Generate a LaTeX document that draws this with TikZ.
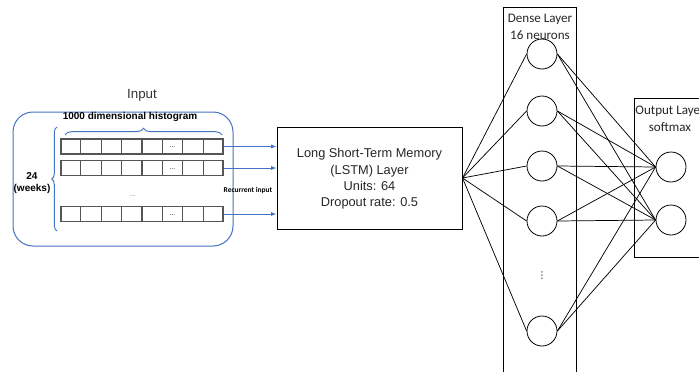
\documentclass[tikz,border=0pt]{standalone}
\usepackage{fontspec}
\setmainfont{Liberation Sans}
\newfontfamily\calf{Carlito}
\newfontfamily\djv{DejaVu Sans}
\usetikzlibrary{arrows.meta,decorations.pathreplacing,calc}
\definecolor{lineblue}{HTML}{4472C4}
\definecolor{cellgray}{HTML}{555555}
\tikzset{
  rowbox/.style={draw=cellgray, line width=0.9pt, minimum width=121.5pt, minimum height=11.25pt, inner sep=0pt},
  neuron/.style={draw, circle, minimum size=22.5pt, inner sep=0pt, line width=0.6pt},
  layerbox/.style={draw, line width=0.75pt, inner sep=0pt, anchor=north west},
  conn/.style={line width=0.55pt},
  bluearrow/.style={draw=lineblue, line width=0.75pt, -{Latex[length=4pt,width=3pt]}},
  bracebl/.style={draw=lineblue, line width=0.7pt, decorate},
  layertitle/.style={font=\calf\fontsize{9.8}{12.75}\selectfont, align=center, text=black!85},
}
\begin{document}
\begin{tikzpicture}[x=0.75pt,y=-0.75pt]
\useasboundingbox (0,0) rectangle (699,371);

% ---------- Input block ----------
\node[font=\fontsize{10}{12}\selectfont, text=black!80] (inputlbl) at (142,95) {Input};
\draw[lineblue, line width=0.75pt, rounded corners=15pt] (13,112) rectangle (233,246);
\node[font=\bfseries\fontsize{7.5}{9}\selectfont] (hist) at (130,117) {1000 dimensional histogram};
\draw[bracebl, decoration={brace, amplitude=5pt}] (65,135) -- (222,135);
\draw[bracebl, decoration={brace, amplitude=4pt}] (57,231) -- (57,127);
\node[font=\bfseries\fontsize{7.5}{9.5}\selectfont, align=center] (weeks) at (32,183) {24\\(weeks)};

\node[rowbox] (r1) at (142,146.5) {};
\node[rowbox] (r2) at (142,168) {};
\node[rowbox] (r3) at (142,214) {};
\foreach \r in {r1,r2,r3}{
  \foreach \i in {1,...,7}{
    \draw[cellgray, line width=0.9pt] ($(\r.south west)!\i/8!(\r.south east)$) -- ($(\r.north west)!\i/8!(\r.north east)$);
  }
  \node[font=\fontsize{5}{5}\selectfont, inner sep=0pt] at ($(\r.center)+(30.4,1)$) {...};
}
\node[font=\fontsize{5}{5}\selectfont, text=black!60, inner sep=0pt] (vdots1) at (133,196) {...};
\node[font=\calf\bfseries\fontsize{5.6}{6}\selectfont] (recur) at (248,190) {Recurrent input};

% ---------- LSTM ----------
\node[draw, line width=0.75pt, minimum width=138.75pt, minimum height=76.5pt, inner sep=0pt] (lstm) at (369.5,178) {};
\node[font=\fontsize{9.6}{12.2}\selectfont, align=center, text=black!85] (lstmtxt) at (369.5,179) {Long Short-Term Memory\\(LSTM) Layer\\Units: 64\\Dropout rate: 0.5};

\foreach \r in {r1,r2,r3}{
  \draw[bluearrow] (\r.east) -- (\r.east -| lstm.west);
}

% ---------- Dense layer ----------
\node[layerbox, minimum width=54.75pt, minimum height=285pt] (dense) at (503,7) {};
\node[layertitle] (densetitle) at (540,26.5) {Dense Layer\\16 neurons};
\node[neuron] (d1) at (542,54) {};
\node[neuron] (d2) at (542,111) {};
\node[neuron] (d3) at (542,166) {};
\node[neuron] (d4) at (542,221) {};
\node[neuron] (d5) at (542,331) {};
\node[font=\djv\fontsize{7}{7}\selectfont, inner sep=0pt] (dvdots) at (542,276) {⋮};

% ---------- Output layer ----------
\node[layerbox, minimum width=60pt, minimum height=119.25pt] (outbox) at (634,98) {};
\node[layertitle] (outtitle) at (670,118.5) {Output Layer\\softmax};
\node[neuron] (o1) at (671,167) {};
\node[neuron] (o2) at (671,220) {};

% ---------- connections ----------
\foreach \d in {d1,d2,d3,d4,d5}{
  \draw[conn] (lstm.east) -- (\d.west);
  \foreach \o in {o1,o2}{
    \draw[conn] (\d.east) -- (\o.west);
  }
}
\end{tikzpicture}
\end{document}
